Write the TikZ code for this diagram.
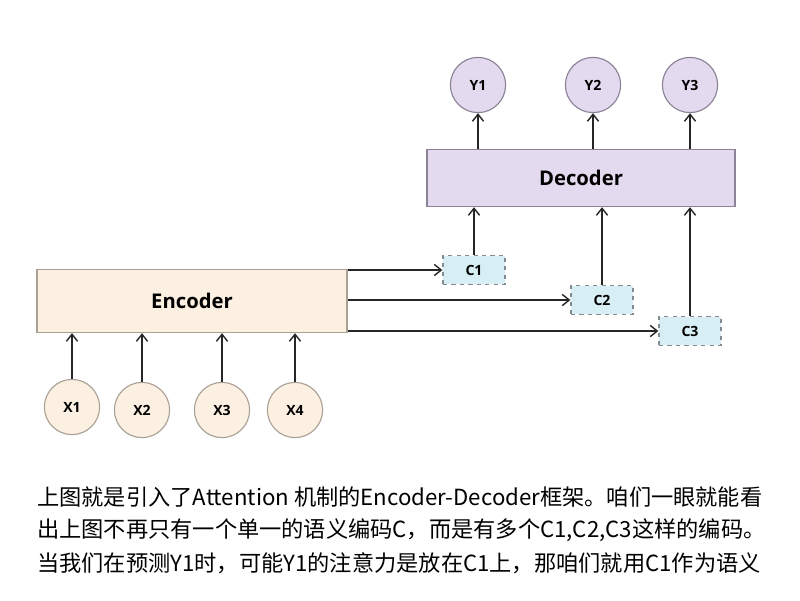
\documentclass[tikz,border=0pt]{standalone}
\usepackage{fontspec}
\setmainfont{Open Sans}
\newfontfamily\cjk{Noto Sans CJK SC}
\usetikzlibrary{arrows.meta, positioning}
\definecolor{encfill}{RGB}{252, 240, 226}
\definecolor{encdraw}{RGB}{170, 160, 150}
\definecolor{decfill}{RGB}{228, 218, 240}
\definecolor{decdraw}{RGB}{140, 130, 150}
\definecolor{ctxfill}{RGB}{214, 238, 244}
\definecolor{ctxdraw}{RGB}{130, 140, 145}

\begin{document}
\begin{tikzpicture}[x=0.025cm, y=-0.025cm,
    block/.style={rectangle, draw, line width=0.8pt, inner sep=0pt, font=\bfseries\Large},
    tok/.style={circle, minimum size=1.38cm, inner sep=0pt, line width=0.8pt, font=\bfseries},
    ctx/.style={rectangle, draw=ctxdraw, fill=ctxfill, dashed, line width=0.9pt, minimum width=1.55cm, minimum height=0.72cm, inner sep=0pt, font=\bfseries},
    arrow/.style={-{Straight Barb[length=5pt, width=8pt]}, line width=1pt, black!85},
    para/.style={anchor=west, font=\cjk\fontsize{15.8}{18}\selectfont, inner sep=0pt}
]
    \useasboundingbox (0,0) rectangle (800,600);
    % Encoder side
    \node[block, fill=encfill, draw=encdraw, minimum width=7.75cm, minimum height=1.58cm] (enc) at (192,301) {Encoder};
    \node[tok, draw=encdraw, fill=encfill] (x1) at (72,407) {X1};
    \node[tok, draw=encdraw, fill=encfill] (x2) at (142,410) {X2};
    \node[tok, draw=encdraw, fill=encfill] (x3) at (222,410) {X3};
    \node[tok, draw=encdraw, fill=encfill] (x4) at (295,410) {X4};
    \foreach \i in {1,...,4}
        \draw[arrow] (x\i) -- (x\i |- enc.south);

    % Decoder side
    \node[block, fill=decfill, draw=decdraw, minimum width=7.7cm, minimum height=1.43cm] (dec) at (581,178) {Decoder};
    \node[tok, draw=decdraw, fill=decfill] (y1) at (478,85) {Y1};
    \node[tok, draw=decdraw, fill=decfill] (y2) at (593,85) {Y2};
    \node[tok, draw=decdraw, fill=decfill] (y3) at (690,85) {Y3};
    \foreach \i in {1,2,3}
        \draw[arrow] (y\i |- dec.north) -- (y\i);

    % Context vectors
    \node[ctx] (c1) at (474,270) {C1};
    \node[ctx] (c2) at (602,300) {C2};
    \node[ctx] (c3) at (690,331) {C3};
    \foreach \i in {1,2,3} {
        \draw[arrow] (enc.east |- c\i) -- (c\i);
        \draw[arrow] (c\i) -- (c\i |- dec.south);
    }

    % Text
    \node[para] (t1) at (37,497) {上图就是引入了Attention 机制的Encoder-Decoder框架。咱们一眼就能看};
    \node[para] (t2) at (37,530) {出上图不再只有一个单一的语义编码C，而是有多个C1,C2,C3这样的编码。};
    \node[para] (t3) at (37,563) {当我们在预测Y1时，可能Y1的注意力是放在C1上，那咱们就用C1作为语义};
\end{tikzpicture}
\end{document}
